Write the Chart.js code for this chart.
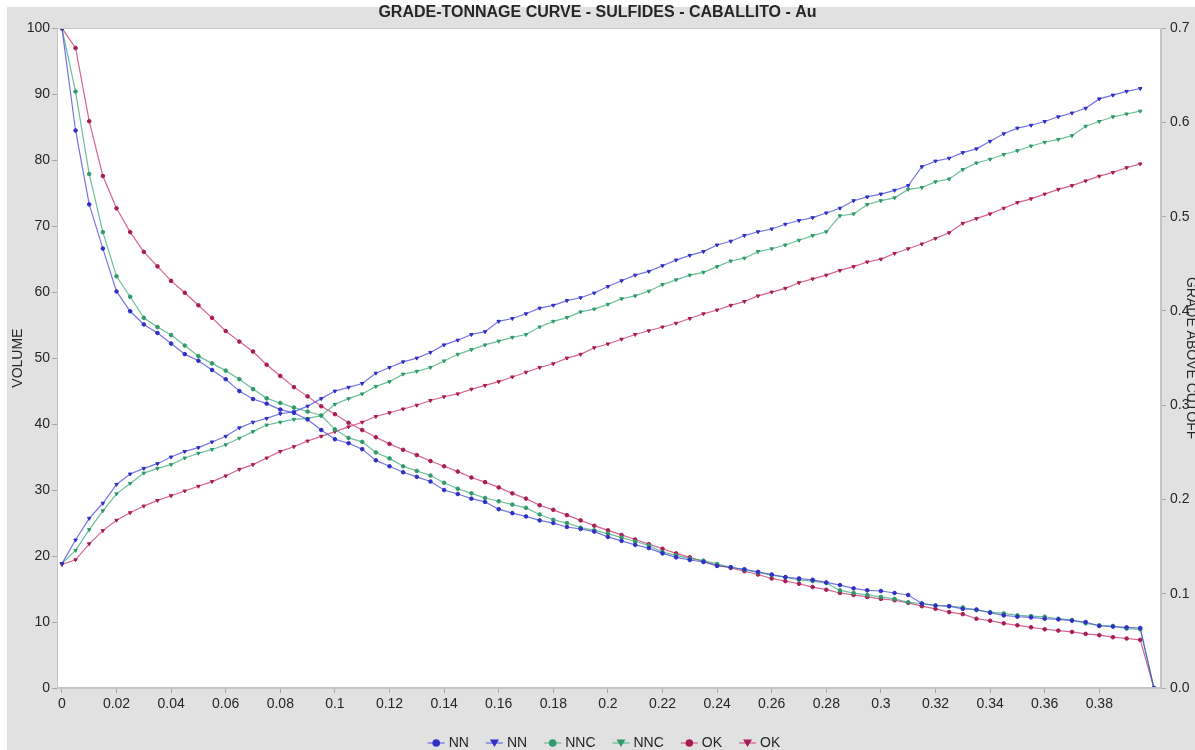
<!DOCTYPE html>
<html>
<head>
<meta charset="utf-8">
<script src="https://cdn.jsdelivr.net/npm/chart.js@4.4.1/dist/chart.umd.min.js"></script>
<style>
  html, body { margin: 0; padding: 0; background: #fff; }
  #wrap { width: 1195px; height: 750px; position: relative; }
</style>
</head>
<body>
<div id="wrap"><canvas id="gtChart"></canvas></div>
<script>
// cutoff grade (Au)
const cutoffs = [
  0, 0.005, 0.01, 0.015, 0.02, 0.025, 0.03, 0.035, 0.04, 0.045,
  0.05, 0.055, 0.06, 0.065, 0.07, 0.075, 0.08, 0.085, 0.09, 0.095,
  0.1, 0.105, 0.11, 0.115, 0.12, 0.125, 0.13, 0.135, 0.14, 0.145,
  0.15, 0.155, 0.16, 0.165, 0.17, 0.175, 0.18, 0.185, 0.19, 0.195,
  0.2, 0.205, 0.21, 0.215, 0.22, 0.225, 0.23, 0.235, 0.24, 0.245,
  0.25, 0.255, 0.26, 0.265, 0.27, 0.275, 0.28, 0.285, 0.29, 0.295,
  0.3, 0.305, 0.31, 0.315, 0.32, 0.325, 0.33, 0.335, 0.34, 0.345,
  0.35, 0.355, 0.36, 0.365, 0.37, 0.375, 0.38, 0.385, 0.39, 0.395,
  0.4
];

// volume above cutoff (%)
const nnVolume = [
  100, 84.5, 73.3, 66.6, 60.1, 57.1, 55.1, 53.8, 52.2, 50.6,
  49.6, 48.2, 46.8, 45.0, 43.8, 43.1, 42.2, 41.7, 40.7, 39.1,
  37.7, 37.1, 36.2, 34.5, 33.6, 32.7, 32.0, 31.3, 30.0, 29.4,
  28.7, 28.2, 27.1, 26.5, 26.0, 25.4, 25.0, 24.4, 24.1, 23.7,
  22.9, 22.3, 21.7, 21.2, 20.4, 19.8, 19.4, 19.1, 18.5, 18.3,
  18.0, 17.6, 17.2, 16.8, 16.6, 16.4, 16.0, 15.6, 15.1, 14.8,
  14.7, 14.4, 14.1, 12.8, 12.5, 12.4, 12.0, 11.9, 11.4, 11.0,
  10.8, 10.7, 10.5, 10.4, 10.2, 10.0, 9.4, 9.3, 9.2, 9.1,
  0
];
const nncVolume = [
  100, 90.4, 77.9, 69.1, 62.4, 59.3, 56.1, 54.7, 53.5, 51.9,
  50.3, 49.2, 48.1, 46.8, 45.3, 43.9, 43.2, 42.5, 41.9, 41.3,
  39.2, 37.9, 37.3, 35.7, 34.8, 33.6, 32.9, 32.2, 31.1, 30.2,
  29.5, 28.8, 28.3, 27.8, 27.3, 26.3, 25.5, 25.0, 24.3, 23.9,
  23.4, 22.8, 22.2, 21.6, 20.6, 20.1, 19.6, 19.3, 18.8, 18.3,
  17.9, 17.5, 17.1, 16.8, 16.4, 16.2, 15.9, 14.8, 14.4, 14.1,
  13.8, 13.5, 13.0, 12.8, 12.5, 12.4, 12.2, 11.8, 11.5, 11.3,
  11.0, 10.9, 10.8, 10.5, 10.3, 9.8, 9.5, 9.4, 9.0, 8.9,
  0
];
const okVolume = [
  100, 97.0, 85.9, 77.6, 72.7, 69.1, 66.1, 63.9, 61.7, 59.9,
  58.0, 56.1, 54.1, 52.5, 51.0, 49.0, 47.3, 45.6, 44.2, 42.7,
  41.5, 40.2, 39.1, 38.0, 37.0, 36.1, 35.3, 34.4, 33.6, 32.8,
  31.9, 31.2, 30.4, 29.5, 28.7, 27.7, 27.0, 26.2, 25.4, 24.6,
  23.9, 23.2, 22.5, 21.8, 21.1, 20.4, 19.8, 19.2, 18.6, 18.2,
  17.7, 17.2, 16.6, 16.2, 15.8, 15.3, 14.9, 14.4, 14.1, 13.8,
  13.5, 13.3, 12.9, 12.4, 12.0, 11.5, 11.2, 10.5, 10.2, 9.8,
  9.5, 9.2, 8.9, 8.7, 8.5, 8.2, 8.0, 7.7, 7.5, 7.3,
  0
];

// mean grade above cutoff
const nnGrade = [
  0.132, 0.157, 0.180, 0.196, 0.216, 0.227, 0.233, 0.238, 0.245, 0.251,
  0.255, 0.261, 0.267, 0.276, 0.282, 0.286, 0.291, 0.293, 0.299, 0.307,
  0.315, 0.319, 0.323, 0.334, 0.340, 0.346, 0.350, 0.356, 0.364, 0.369,
  0.375, 0.378, 0.389, 0.392, 0.397, 0.403, 0.406, 0.411, 0.414, 0.419,
  0.426, 0.432, 0.438, 0.442, 0.448, 0.454, 0.459, 0.463, 0.470, 0.474,
  0.480, 0.484, 0.487, 0.492, 0.496, 0.499, 0.504, 0.509, 0.517, 0.521,
  0.524, 0.528, 0.533, 0.553, 0.559, 0.562, 0.568, 0.572, 0.580, 0.588,
  0.594, 0.597, 0.601, 0.606, 0.610, 0.615, 0.625, 0.629, 0.633, 0.636
];
const nncGrade = [
  0.132, 0.146, 0.168, 0.188, 0.206, 0.217, 0.228, 0.233, 0.237, 0.244,
  0.249, 0.253, 0.258, 0.265, 0.272, 0.279, 0.282, 0.285, 0.286, 0.289,
  0.301, 0.307, 0.312, 0.320, 0.325, 0.333, 0.336, 0.340, 0.347, 0.354,
  0.359, 0.364, 0.368, 0.372, 0.375, 0.383, 0.389, 0.393, 0.399, 0.402,
  0.407, 0.413, 0.416, 0.421, 0.428, 0.433, 0.438, 0.441, 0.447, 0.453,
  0.456, 0.463, 0.466, 0.470, 0.475, 0.480, 0.484, 0.501, 0.503, 0.513,
  0.517, 0.520, 0.529, 0.531, 0.537, 0.540, 0.550, 0.557, 0.561, 0.566,
  0.570, 0.575, 0.579, 0.582, 0.586, 0.596, 0.601, 0.606, 0.609, 0.612
];
const okGrade = [
  0.131, 0.136, 0.153, 0.167, 0.178, 0.186, 0.193, 0.199, 0.204, 0.209,
  0.214, 0.219, 0.225, 0.232, 0.237, 0.244, 0.251, 0.256, 0.262, 0.267,
  0.272, 0.277, 0.282, 0.288, 0.292, 0.296, 0.300, 0.305, 0.309, 0.312,
  0.317, 0.321, 0.325, 0.330, 0.335, 0.340, 0.344, 0.350, 0.354, 0.361,
  0.365, 0.370, 0.375, 0.379, 0.383, 0.387, 0.392, 0.397, 0.401, 0.406,
  0.410, 0.416, 0.420, 0.424, 0.430, 0.434, 0.438, 0.443, 0.447, 0.452,
  0.455, 0.461, 0.466, 0.471, 0.477, 0.483, 0.493, 0.498, 0.503, 0.509,
  0.515, 0.519, 0.524, 0.529, 0.533, 0.538, 0.543, 0.547, 0.552, 0.556
];

const xTickValues = [
  0, 0.02, 0.04, 0.06, 0.08, 0.1, 0.12, 0.14, 0.16, 0.18,
  0.2, 0.22, 0.24, 0.26, 0.28, 0.3, 0.32, 0.34, 0.36, 0.38
];

const FONT = "'Liberation Sans', Arial, sans-serif";
const TEXT = '#262626';

const palette = {
  NN:  { line: 'rgba(70, 70, 225, 0.75)', mark: '#2f2fc4' },
  NNC: { line: 'rgba(60, 170, 120, 0.75)', mark: '#2f9a6c' },
  OK:  { line: 'rgba(205, 60, 115, 0.8)', mark: '#a81c55' }
};

function volumeSet(label, values) {
  const c = palette[label];
  return {
    label: label,
    yAxisID: 'y',
    data: values.map((v, i) => ({ x: cutoffs[i], y: v })),
    borderColor: c.line,
    backgroundColor: c.mark,
    pointBorderColor: c.mark,
    pointBackgroundColor: c.mark,
    pointStyle: 'circle',
    pointRadius: 1.8,
    pointBorderWidth: 1,
    borderWidth: 1.2,
    tension: 0
  };
}

function gradeSet(label, values) {
  const c = palette[label];
  return {
    label: label,
    yAxisID: 'y1',
    data: values.map((v, i) => ({ x: cutoffs[i], y: v })),
    borderColor: c.line,
    backgroundColor: c.mark,
    pointBorderColor: c.mark,
    pointBackgroundColor: c.mark,
    pointStyle: 'triangle',
    pointRotation: 180,
    pointRadius: 2,
    pointBorderWidth: 1,
    borderWidth: 1.2,
    tension: 0
  };
}

// grey panel, white plot area and the frame round it
const panelPlugin = {
  id: 'panel',
  beforeDraw(chart) {
    const { ctx, chartArea: a, width, height } = chart;
    ctx.save();
    ctx.fillStyle = '#ffffff';
    ctx.fillRect(0, 0, width, height);
    ctx.fillStyle = '#e1e1e1';
    ctx.fillRect(7, 7, width - 7, height - 7);
    ctx.fillStyle = '#ffffff';
    ctx.fillRect(a.left, a.top, a.right - a.left, a.bottom - a.top);
    ctx.restore();
  },
  afterDraw(chart) {
    const { ctx, chartArea: a } = chart;
    ctx.save();
    ctx.strokeStyle = '#c4c4c4';
    ctx.lineWidth = 1;
    ctx.strokeRect(Math.round(a.left) + 0.5, Math.round(a.top) + 0.5,
      Math.round(a.right - a.left) - 1, Math.round(a.bottom - a.top) - 1);
    ctx.restore();
  }
};

// legend row under the axis: short line with its marker, then the name
const legendPlugin = {
  id: 'lineLegend',
  afterDraw(chart) {
    const { ctx } = chart;
    const sets = chart.data.datasets;
    ctx.save();
    ctx.font = '14px ' + FONT;
    ctx.textBaseline = 'middle';
    const sym = 17, gap = 4, spacing = 17;
    let total = 0;
    sets.forEach((ds, i) => {
      total += sym + gap + ctx.measureText(ds.label).width;
      if (i < sets.length - 1) total += spacing;
    });
    let x = 604 - total / 2;
    const y = 743;
    sets.forEach(ds => {
      ctx.strokeStyle = ds.borderColor;
      ctx.lineWidth = 1.2;
      ctx.beginPath();
      ctx.moveTo(x, y);
      ctx.lineTo(x + sym, y);
      ctx.stroke();
      const cx = x + sym / 2;
      ctx.fillStyle = ds.pointBackgroundColor;
      ctx.beginPath();
      if (ds.pointStyle === 'circle') {
        ctx.arc(cx, y, 3.8, 0, Math.PI * 2);
      } else {
        ctx.moveTo(cx - 4.5, y - 3.5);
        ctx.lineTo(cx + 4.5, y - 3.5);
        ctx.lineTo(cx, y + 4);
        ctx.closePath();
      }
      ctx.fill();
      x += sym + gap;
      ctx.fillStyle = TEXT;
      ctx.fillText(ds.label, x, y);
      x += ctx.measureText(ds.label).width + spacing;
    });
    ctx.restore();
  }
};

const ctx = document.getElementById('gtChart').getContext('2d');
new Chart(ctx, {
  type: 'line',
  data: {
    datasets: [
      volumeSet('NN', nnVolume),
      gradeSet('NN', nnGrade),
      volumeSet('NNC', nncVolume),
      gradeSet('NNC', nncGrade),
      volumeSet('OK', okVolume),
      gradeSet('OK', okGrade)
    ]
  },
  plugins: [panelPlugin, legendPlugin],
  options: {
    responsive: true,
    maintainAspectRatio: false,
    animation: false,
    layout: { padding: { left: 0, right: 0, top: 0, bottom: 32 } },
    plugins: {
      legend: { display: false },
      tooltip: { enabled: false },
      title: {
        display: true,
        text: 'GRADE-TONNAGE CURVE - SULFIDES - CABALLITO - Au',
        color: TEXT,
        font: { family: FONT, size: 16, weight: 'bold' },
        padding: { top: 3, bottom: 6 }
      }
    },
    scales: {
      x: {
        type: 'linear',
        min: -0.0018,
        max: 0.4026,
        afterBuildTicks(scale) {
          scale.ticks = xTickValues.map(v => ({ value: v }));
        },
        afterFit(scale) { scale.height = 30; },
        grid: { drawOnChartArea: false, drawTicks: true, tickLength: 5, color: '#a8a8a8' },
        border: { display: true, color: '#c4c4c4' },
        ticks: {
          color: TEXT,
          font: { family: FONT, size: 14 },
          padding: 3,
          maxRotation: 0,
          autoSkip: false,
          callback: v => String(+v.toFixed(3))
        }
      },
      y: {
        position: 'left',
        min: 0,
        max: 100,
        afterFit(scale) { scale.width = 57; },
        grid: { drawOnChartArea: false, drawTicks: true, tickLength: 5, color: '#a8a8a8' },
        border: { display: true, color: '#c4c4c4' },
        ticks: {
          stepSize: 10,
          color: TEXT,
          font: { family: FONT, size: 14 },
          padding: 2
        },
        title: {
          display: true,
          text: 'VOLUME',
          color: TEXT,
          font: { family: FONT, size: 14 },
          padding: { top: 10, bottom: 0 }
        }
      },
      y1: {
        position: 'right',
        min: 0,
        max: 0.7,
        afterFit(scale) { scale.width = 34; },
        grid: { drawOnChartArea: false, drawTicks: true, tickLength: 5, color: '#a8a8a8' },
        border: { display: true, color: '#c4c4c4' },
        ticks: {
          stepSize: 0.1,
          color: TEXT,
          font: { family: FONT, size: 14 },
          padding: 4,
          callback: v => v.toFixed(1)
        },
        title: {
          display: true,
          text: 'GRADE ABOVE CUTOFF',
          color: TEXT,
          font: { family: FONT, size: 14 },
          padding: { top: -4, bottom: 0 }
        }
      }
    }
  }
});
</script>
</body>
</html>
